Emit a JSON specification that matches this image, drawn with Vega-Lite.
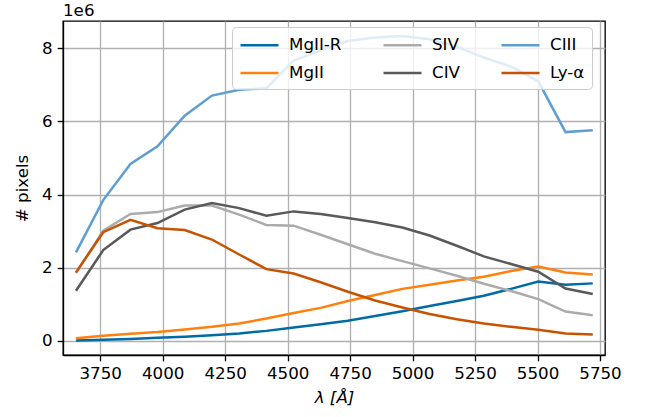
{
  "$schema": "https://vega.github.io/schema/vega-lite/v6.json",
  "autosize": {"type": "none"},
  "padding": {"left": 63, "top": 21, "right": 44, "bottom": 62},
  "width": 542,
  "height": 334,
  "background": "white",
  "title": {"text": "1e6", "anchor": "start", "frame": "group", "fontSize": 16.7, "fontWeight": "normal", "font": "DejaVu Sans", "color": "black", "offset": 1},
  "data": {
    "values": [
      {"x": 3653, "MgII-R": 0.01, "MgII": 0.07, "SIV": 1.85, "CIV": 1.37, "CIII": 2.42, "Ly-α": 1.87},
      {"x": 3762, "MgII-R": 0.03, "MgII": 0.14, "SIV": 3.01, "CIV": 2.48, "CIII": 3.85, "Ly-α": 2.97},
      {"x": 3871, "MgII-R": 0.05, "MgII": 0.19, "SIV": 3.47, "CIV": 3.04, "CIII": 4.84, "Ly-α": 3.31},
      {"x": 3979, "MgII-R": 0.08, "MgII": 0.24, "SIV": 3.52, "CIV": 3.22, "CIII": 5.32, "Ly-α": 3.08},
      {"x": 4088, "MgII-R": 0.11, "MgII": 0.31, "SIV": 3.70, "CIV": 3.59, "CIII": 6.16, "Ly-α": 3.03},
      {"x": 4197, "MgII-R": 0.15, "MgII": 0.38, "SIV": 3.70, "CIV": 3.77, "CIII": 6.71, "Ly-α": 2.77},
      {"x": 4306, "MgII-R": 0.20, "MgII": 0.47, "SIV": 3.45, "CIV": 3.63, "CIII": 6.87, "Ly-α": 2.36},
      {"x": 4415, "MgII-R": 0.27, "MgII": 0.61, "SIV": 3.17, "CIV": 3.42, "CIII": 6.91, "Ly-α": 1.96},
      {"x": 4524, "MgII-R": 0.36, "MgII": 0.76, "SIV": 3.15, "CIV": 3.54, "CIII": 7.67, "Ly-α": 1.84},
      {"x": 4632, "MgII-R": 0.45, "MgII": 0.90, "SIV": 2.90, "CIV": 3.47, "CIII": 7.95, "Ly-α": 1.60},
      {"x": 4741, "MgII-R": 0.55, "MgII": 1.09, "SIV": 2.64, "CIV": 3.36, "CIII": 8.20, "Ly-α": 1.34},
      {"x": 4850, "MgII-R": 0.68, "MgII": 1.25, "SIV": 2.38, "CIV": 3.24, "CIII": 8.30, "Ly-α": 1.10},
      {"x": 4959, "MgII-R": 0.81, "MgII": 1.42, "SIV": 2.18, "CIV": 3.10, "CIII": 8.34, "Ly-α": 0.91},
      {"x": 5068, "MgII-R": 0.95, "MgII": 1.53, "SIV": 1.98, "CIV": 2.88, "CIII": 8.25, "Ly-α": 0.73},
      {"x": 5177, "MgII-R": 1.09, "MgII": 1.65, "SIV": 1.78, "CIV": 2.60, "CIII": 8.05, "Ly-α": 0.59},
      {"x": 5285, "MgII-R": 1.23, "MgII": 1.75, "SIV": 1.56, "CIV": 2.31, "CIII": 7.75, "Ly-α": 0.47},
      {"x": 5394, "MgII-R": 1.42, "MgII": 1.91, "SIV": 1.36, "CIV": 2.10, "CIII": 7.50, "Ly-α": 0.38},
      {"x": 5503, "MgII-R": 1.62, "MgII": 2.03, "SIV": 1.14, "CIV": 1.89, "CIII": 7.10, "Ly-α": 0.30},
      {"x": 5612, "MgII-R": 1.53, "MgII": 1.87, "SIV": 0.80, "CIV": 1.43, "CIII": 5.71, "Ly-α": 0.20},
      {"x": 5721, "MgII-R": 1.57, "MgII": 1.81, "SIV": 0.70, "CIV": 1.28, "CIII": 5.76, "Ly-α": 0.17}
    ]
  },
  "transform": [
    {"fold": ["MgII-R", "MgII", "SIV", "CIV", "CIII", "Ly-α"], "as": ["series", "value"]}
  ],
  "mark": {"type": "line", "strokeWidth": 2.5, "clip": true},
  "encoding": {
    "x": {
      "field": "x", "type": "quantitative",
      "scale": {"domain": [3601, 5770], "nice": false, "zero": false},
      "axis": {"values": [3750, 4000, 4250, 4500, 4750, 5000, 5250, 5500, 5750], "format": "d", "title": "λ [Å]", "titleFontStyle": "italic", "titlePadding": 7, "labelPadding": 5}
    },
    "y": {
      "field": "value", "type": "quantitative",
      "scale": {"domain": [-0.39, 8.75], "nice": false, "zero": false},
      "axis": {"values": [0, 2, 4, 6, 8], "format": "d", "title": "# pixels", "titlePadding": 10, "labelPadding": 5}
    },
    "color": {
      "field": "series", "type": "nominal",
      "scale": {
        "domain": ["MgII-R", "MgII", "SIV", "CIV", "CIII", "Ly-α"],
        "range": ["#006BA4", "#FF800E", "#ABABAB", "#595959", "#5F9ED1", "#C85200"]
      },
      "legend": {
        "orient": "none", "legendX": 169, "legendY": 6,
        "columns": 3, "title": null,
        "symbolType": "M-1,0H3", "symbolSize": 361, "symbolStrokeWidth": 2.5,
        "labelFontSize": 16.7, "labelFont": "DejaVu Sans", "labelColor": "black",
        "labelOffset": 28, "columnPadding": 36, "rowPadding": 8, "padding": 7,
        "fillColor": "rgba(255,255,255,0.8)", "strokeColor": "#cccccc", "cornerRadius": 4,
        "gridAlign": "each"
      }
    }
  },
  "config": {
    "view": {"stroke": "black", "strokeWidth": 1.33},
    "font": "DejaVu Sans",
    "axis": {
      "domainColor": "black", "domainWidth": 1.33,
      "tickColor": "black", "tickWidth": 1.33, "tickSize": 5.8,
      "labelFont": "DejaVu Sans", "labelFontSize": 16.7, "labelColor": "black",
      "titleFont": "DejaVu Sans", "titleFontSize": 16.7, "titleFontWeight": "normal", "titleColor": "black",
      "gridColor": "#b0b0b0", "gridWidth": 1.33
    }
  }
}
